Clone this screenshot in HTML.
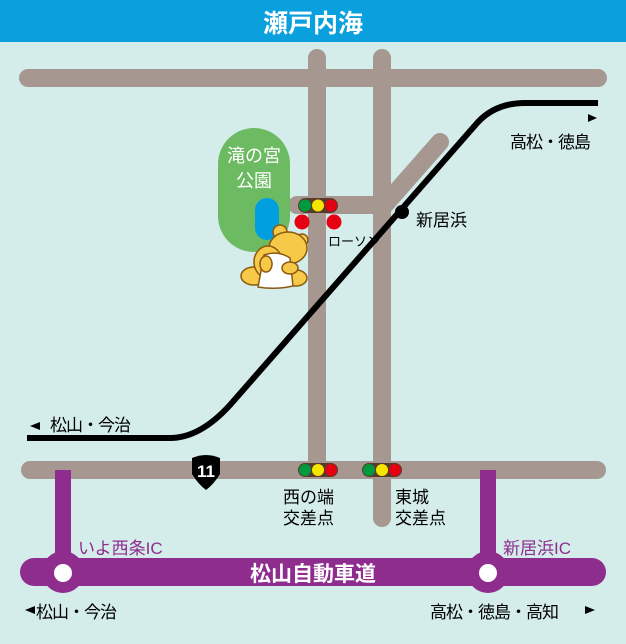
<!DOCTYPE html><html><head><meta charset="utf-8"><style>body{margin:0}svg{display:block}text{font-family:"Liberation Sans","Noto Sans CJK JP",sans-serif}</style></head><body>
<svg width="626" height="644" viewBox="0 0 626 644" xmlns="http://www.w3.org/2000/svg">
<rect width="626" height="644" fill="#d4ecea"/>
<rect width="626" height="42" fill="#0aa0de"/>
<text x="313" y="32" font-size="25" font-weight="bold" fill="#fff" text-anchor="middle">瀬戸内海</text>
<g stroke="#a69890" stroke-width="18" stroke-linecap="round" fill="none">
<line x1="28" y1="78" x2="598" y2="78"/>
<line x1="317" y1="58" x2="317" y2="470"/>
<line x1="382" y1="58" x2="382" y2="518"/>
<line x1="382" y1="208" x2="440" y2="142"/>
<line x1="297" y1="205" x2="382" y2="205"/>
<line x1="30" y1="470" x2="597" y2="470"/>
</g>
<rect x="218" y="128" width="72" height="124" rx="36" fill="#6cba62"/>
<text x="254" y="162" font-size="18" fill="#fff" text-anchor="middle">滝の宮</text>
<text x="254" y="187" font-size="18" fill="#fff" text-anchor="middle">公園</text>
<rect x="255" y="198" width="24" height="42" rx="12" fill="#00a0e0"/>
<path d="M27,438 L170,438 Q200,438 230,405 L478,122 Q496,103 525,103 L598,103" stroke="#000" stroke-width="6" fill="none"/>
<circle cx="402" cy="212" r="7" fill="#000"/>
<g><rect x="298" y="198" width="40" height="15" rx="7.5" fill="#5a3a2a"/>
<circle cx="305" cy="205.5" r="6" fill="#009a3e"/><circle cx="318" cy="205.5" r="6" fill="#f5e600"/><circle cx="331" cy="205.5" r="6" fill="#e50012"/></g>
<circle cx="302" cy="222" r="7.5" fill="#e50012"/><circle cx="334" cy="222" r="7.5" fill="#e50012"/>
<text x="328" y="246" font-size="13" fill="#000">ローソン</text>
<text x="416" y="226" font-size="17" fill="#000">新居浜</text>
<text x="510" y="148" font-size="17" fill="#000" letter-spacing="-1">高松・徳島</text>
<path d="M588,114 l9,4 l-9,4z" fill="#000"/>
<text x="50" y="431" font-size="17" fill="#000" letter-spacing="-1">松山・今治</text>
<path d="M40,422 l-10,4 l10,4z" fill="#000"/>
<!-- bear -->
<g stroke="#8a5a10" stroke-width="1.5" fill="#f7c948">
<ellipse cx="254" cy="276" rx="13" ry="9"/>
<ellipse cx="296" cy="278" rx="11" ry="8"/>
<circle cx="280" cy="232" r="7"/>
<circle cx="302" cy="240" r="6"/>
<ellipse cx="288" cy="248" rx="19" ry="16"/>
<ellipse cx="268" cy="262" rx="14" ry="16"/>
<path d="M264,255 Q278,250 290,258 L293,286 Q275,290 258,287z" fill="#fff"/>
<ellipse cx="290" cy="268" rx="8" ry="6"/>
<ellipse cx="266" cy="264" rx="6" ry="8"/>
</g>
<g stroke-width="16" fill="none"><line x1="63" y1="470" x2="63" y2="572" stroke="#8e2d8e"/><line x1="488" y1="470" x2="488" y2="572" stroke="#8e2d8e"/></g>
<line x1="34" y1="572" x2="592" y2="572" stroke="#8e2d8e" stroke-width="28" stroke-linecap="round"/>
<circle cx="63" cy="572" r="21" fill="#8e2d8e"/><circle cx="63" cy="573" r="9" fill="#fff"/>
<circle cx="488" cy="572" r="21" fill="#8e2d8e"/><circle cx="488" cy="573" r="9" fill="#fff"/>
<text x="313" y="581" font-size="21" font-weight="bold" fill="#fff" text-anchor="middle">松山自動車道</text>
<text x="78" y="554" font-size="17" fill="#8e2d8e">いよ西条IC</text>
<text x="503" y="554" font-size="17" fill="#8e2d8e">新居浜IC</text>
<g><rect x="298" y="463" width="40" height="14" rx="7" fill="#5a3a2a"/>
<circle cx="305" cy="470" r="6" fill="#009a3e"/><circle cx="318" cy="470" r="6" fill="#f5e600"/><circle cx="331" cy="470" r="6" fill="#e50012"/></g>
<g><rect x="362" y="463" width="40" height="14" rx="7" fill="#5a3a2a"/>
<circle cx="369" cy="470" r="6" fill="#009a3e"/><circle cx="382" cy="470" r="6" fill="#f5e600"/><circle cx="395" cy="470" r="6" fill="#e50012"/></g>
<path d="M192,458 Q206,452 220,458 L220,474 Q214,484 206,490 Q198,484 192,474z" fill="#000"/>
<text x="206" y="477" font-size="17" font-weight="bold" fill="#fff" text-anchor="middle">11</text>
<text x="283" y="503" font-size="17" fill="#000">西の端</text>
<text x="283" y="524" font-size="17" fill="#000">交差点</text>
<text x="395" y="503" font-size="17" fill="#000">東城</text>
<text x="395" y="524" font-size="17" fill="#000">交差点</text>
<text x="36" y="618" font-size="17" fill="#000" letter-spacing="-1">松山・今治</text>
<path d="M35,606 l-10,4 l10,4z" fill="#000"/>
<text x="430" y="618" font-size="17" fill="#000" letter-spacing="-1">高松・徳島・高知</text>
<path d="M585,606 l10,4 l-10,4z" fill="#000"/>
</svg>
</body></html>
